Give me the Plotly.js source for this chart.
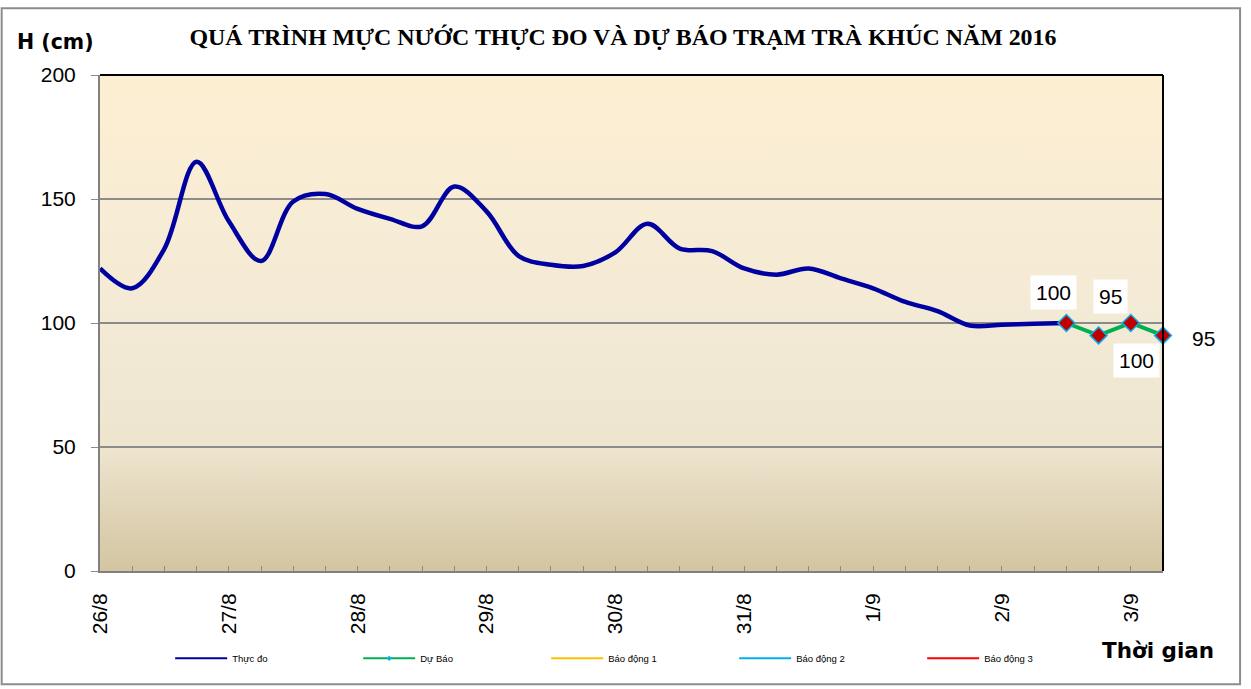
<!DOCTYPE html>
<html>
<head>
<meta charset="utf-8">
<script src="https://cdn.plot.ly/plotly-3.0.1.min.js"></script>
<style>html,body{margin:0;padding:0;background:#fff;}#chart{width:1251px;height:689px;}</style>
</head>
<body>
<div id="chart"></div>
<script>
// ---- data ----
const dayLabels = ['26/8','27/8','28/8','29/8','30/8','31/8','1/9','2/9','3/9'];
const stepsPerDay = 4; // 6-hourly readings
const observed = [122,114,130,165,141,125,149,152,146,142,139,155,145,127,123.5,123,128.5,140,130,129,122,119.5,122,118,114,108.5,104.8,99,99.3,99.7,100];
const forecast = [100,95,100,95];
const forecastLabels = ['100','95','100','95'];
const alarm1 = 350, alarm2 = 500, alarm3 = 650;

const nSteps = observed.length + forecast.length - 1; // 34 points
const xAll = [];
const tickText = [];
for (let i = 0; i < nSteps; i++) {
  xAll.push(i);
  tickText.push(i % stepsPerDay === 0 ? dayLabels[i / stepsPerDay] : '');
}
const xObs = xAll.slice(0, observed.length);
const xFc = xAll.slice(observed.length - 1);
const xRange = [0, nSteps - 1];

const C_OBS = '#0000A0', C_FC = '#00B050', C_B1 = '#FFC000', C_B2 = '#00B0F0', C_B3 = '#FF0000';

const traces = [
  {x: xObs, y: observed, name: 'Thực đo', mode: 'lines', showlegend: false,
   line: {color: C_OBS, width: 4.5, shape: 'spline', smoothing: 1}},
  {x: xFc, y: forecast, name: 'Dự Báo', mode: 'lines+markers', showlegend: false, cliponaxis: false,
   line: {color: C_FC, width: 4},
   marker: {symbol: 'diamond', size: 13, color: '#C00000', line: {color: '#00B0F0', width: 1.5}}},
  {x: xRange, y: [alarm1, alarm1], name: 'Báo động 1', mode: 'lines', showlegend: false, line: {color: C_B1, width: 2}},
  {x: xRange, y: [alarm2, alarm2], name: 'Báo động 2', mode: 'lines', showlegend: false, line: {color: C_B2, width: 2}},
  {x: xRange, y: [alarm3, alarm3], name: 'Báo động 3', mode: 'lines', showlegend: false, line: {color: C_B3, width: 2}},
  // legend entries (thin lines, like the original legend)
  {x: [null], y: [null], name: 'Thực đo', mode: 'lines', line: {color: C_OBS, width: 2}},
  {x: [null], y: [null], name: 'Dự Báo', mode: 'lines+markers', line: {color: C_FC, width: 2},
   marker: {symbol: 'diamond', size: 4, color: '#00B0F0'}},
  {x: [null], y: [null], name: 'Báo động 1', mode: 'lines', line: {color: C_B1, width: 2}},
  {x: [null], y: [null], name: 'Báo động 2', mode: 'lines', line: {color: C_B2, width: 2}},
  {x: [null], y: [null], name: 'Báo động 3', mode: 'lines', line: {color: C_B3, width: 2}}
];

const shifts = [[-13, 31], [12, 39], [6, -37], [40, -3]];
const annotations = forecast.map((v, i) => ({
  x: xFc[i], y: v, xref: 'x', yref: 'y', text: forecastLabels[i], showarrow: false,
  xshift: shifts[i][0], yshift: shifts[i][1],
  bgcolor: i === 3 ? 'rgba(0,0,0,0)' : '#ffffff', borderpad: 5,
  font: {family: 'Liberation Sans, Arial', size: 21, color: '#000'}
}));
annotations.push(
  {xref: 'paper', yref: 'paper', x: -0.0795, y: 1.066, xanchor: 'left', yanchor: 'middle',
   text: '<b>H (cm)</b>', showarrow: false, font: {family: 'DejaVu Sans', size: 20.5, color: '#000'}},
  {xref: 'paper', yref: 'paper', x: 1.0503, y: -0.161, xanchor: 'right', yanchor: 'middle',
   text: '<b>Thời gian</b>', showarrow: false, font: {family: 'DejaVu Sans', size: 21.5, color: '#000'}}
);

const gradSvg = "<svg xmlns='http://www.w3.org/2000/svg' width='100' height='100' preserveAspectRatio='none'>" +
  "<defs><linearGradient id='g' x1='0' y1='0' x2='0' y2='1'>" +
  "<stop offset='0' stop-color='#FDEFD2'/><stop offset='0.5' stop-color='#F3EAD6'/>" +
  "<stop offset='0.75' stop-color='#EEE5CF'/><stop offset='1' stop-color='#D3C5A1'/>" +
  "</linearGradient></defs><rect width='100' height='100' fill='url(#g)'/></svg>";

const layout = {
  width: 1251, height: 689,
  margin: {l: 100, r: 88, t: 75, b: 118},
  paper_bgcolor: '#ffffff', plot_bgcolor: 'rgba(0,0,0,0)',
  title: {text: '<b>QUÁ TRÌNH MỰC NƯỚC THỰC ĐO VÀ DỰ BÁO TRẠM TRÀ KHÚC NĂM 2016</b>',
          font: {family: 'Liberation Serif, Times New Roman', size: 23.9, color: '#000'},
          x: 0.498, xanchor: 'center', y: 0.947, yanchor: 'middle'},
  showlegend: true,
  legend: {orientation: 'h', x: 0.066, y: -0.176, xanchor: 'left', yanchor: 'middle',
           font: {family: 'Liberation Sans, Arial', size: 9.5, color: '#000'},
           itemwidth: 52, entrywidth: 121, entrywidthmode: 'pixels', bgcolor: 'rgba(0,0,0,0)'},
  xaxis: {range: xRange, tickmode: 'array', tickvals: xAll, ticktext: tickText,
          ticks: 'inside', ticklen: 5, tickwidth: 1, tickcolor: '#8a8a8a',
          tickangle: -90, ticklabelstandoff: 12,
          tickfont: {family: 'Liberation Sans, Arial', size: 21, color: '#000'},
          showline: true, linecolor: '#808080', linewidth: 2,
          showgrid: false, zeroline: false, fixedrange: true},
  yaxis: {range: [0, 200], dtick: 50, tick0: 0,
          ticks: 'outside', ticklen: 7, tickwidth: 1, tickcolor: '#8a8a8a', ticklabelstandoff: 11,
          tickfont: {family: 'Liberation Sans, Arial', size: 21, color: '#000'},
          showline: true, linecolor: '#808080', linewidth: 2,
          showgrid: true, gridcolor: '#8c8c8c', gridwidth: 1.5, zeroline: false, fixedrange: true},
  images: [{source: 'data:image/svg+xml;charset=utf-8,' + encodeURIComponent(gradSvg),
            xref: 'paper', yref: 'paper', x: 0, y: 1, sizex: 1, sizey: 1,
            sizing: 'stretch', xanchor: 'left', yanchor: 'top', layer: 'below'}],
  shapes: [
    {type: 'line', xref: 'paper', yref: 'paper', x0: 0, x1: 1, y0: 1, y1: 1, line: {color: '#000', width: 2}},
    {type: 'line', xref: 'paper', yref: 'paper', x0: 1, x1: 1, y0: 0, y1: 1, line: {color: '#000', width: 2}},
    {type: 'rect', xref: 'paper', yref: 'paper', x0: -0.0925, x1: 1.0725, y0: -0.2285, y1: 1.1345,
     line: {color: '#8c8c8c', width: 2}, fillcolor: 'rgba(0,0,0,0)'}
  ],
  annotations: annotations
};

Plotly.newPlot('chart', traces, layout, {displayModeBar: false, staticPlot: true});
</script>
</body>
</html>
